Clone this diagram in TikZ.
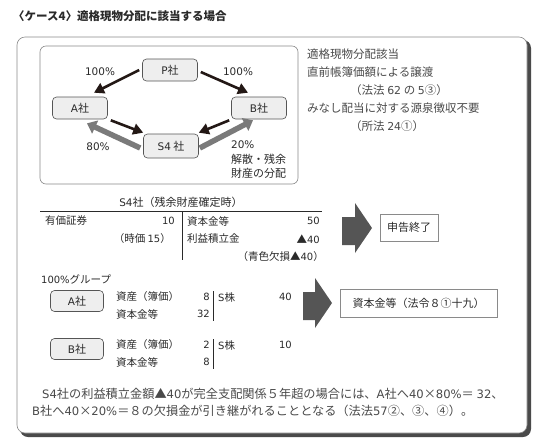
\documentclass[tikz,border=0pt]{standalone}
\usepackage{fontspec}
\setmainfont{Noto Sans CJK JP}
\newfontfamily\lat[Scale=0.95]{DejaVu Sans}
\newcommand{\nm}[1]{{\lat #1}}
\usetikzlibrary{arrows.meta}
\definecolor{txt}{HTML}{2A2A2A}
\definecolor{gtxt}{HTML}{4A4A4A}
\definecolor{frame}{HTML}{8A8A8A}
\definecolor{shadow}{HTML}{4A4A4A}
\definecolor{boxfill}{HTML}{EEEEEE}
\definecolor{boxline}{HTML}{555555}
\definecolor{blkarrow}{HTML}{231815}
\definecolor{grayarrow}{HTML}{7A7A7A}
\definecolor{bigarrow}{HTML}{555555}
\newcommand{\fs}[1]{\fontsize{#1}{#1}\selectfont}
\tikzset{
  comp/.style={draw=boxline, fill=boxfill, rounded corners=4pt, line width=0.6pt,
    minimum width=55pt, minimum height=22pt, inner sep=0pt, font=\fs{11}, text=txt},
  blk/.style={draw=blkarrow, line width=2.6pt, -{Triangle[length=10pt,width=11pt]}},
  gry/.style={draw=grayarrow, line width=5.5pt, -{Triangle[length=9pt,width=14pt]}},
  lbl/.style={inner sep=0pt, font=\fs{11}, text=txt},
  note/.style={inner sep=0pt, anchor=west, font=\fs{11.5}, text=gtxt},
  cell/.style={inner sep=0pt, font=\fs{10.5}, text=txt},
  resbox/.style={draw=frame, fill=white, line width=0.6pt, inner sep=0pt, font=\fs{11}, text=txt},
  body/.style={inner sep=0pt, anchor=west, font=\fs{12.2}, text=gtxt},
}
\begin{document}
\begin{tikzpicture}[x=1pt,y=-1pt]
\useasboundingbox (0,0) rectangle (550,448);
% title
\node[inner sep=0pt, anchor=west, font=\bfseries\fs{11.5}, text=txt] (title) at (13,16) {〈ケース4〉適格現物分配に該当する場合};
% outer frame with shadow
\fill[shadow, rounded corners=8pt] (20,40) rectangle (531,437);
\filldraw[fill=white, draw=frame, line width=0.6pt, rounded corners=8pt] (17,37) rectangle (527,433);
% inner box
\draw[frame, line width=0.6pt, rounded corners=6pt] (40,46) rectangle (298,184);
% companies
\node[comp] (P) at (170,70) {\nm{P}社};
\node[comp] (A) at (80,108) {\nm{A}社};
\node[comp] (B) at (259,108) {\nm{B}社};
\node[comp, minimum height=24pt] (S) at (171,146) {\nm{S4} 社};
% arrows
\draw[blk] ([xshift=-3pt]P.west) -- ([xshift=14pt,yshift=4pt]A.north);
\draw[blk] ([xshift=3pt,yshift=-2pt]P.east) -- ([xshift=-11pt,yshift=4pt]B.north);
\draw[blk] ([xshift=3pt,yshift=-1pt]A.south east) -- ([yshift=1pt]S.north west);
\draw[blk] ([xshift=-2pt,yshift=-1pt]B.south west) -- ([yshift=1pt]S.north east);
\draw[gry] ([xshift=-3pt,yshift=-2pt]S.west) -- ([xshift=7pt,yshift=-4pt]A.south);
\draw[gry] ([xshift=1pt,yshift=-2pt]S.east) -- ([xshift=-6pt,yshift=-1pt]B.south);
% labels
\node[lbl] (l1) at (100,72) {\nm{100\%}};
\node[lbl] (l2) at (238,72) {\nm{100\%}};
\node[lbl] (l3) at (98,147) {\nm{80\%}};
\node[lbl, anchor=west] (l4) at (231,145) {\nm{20\%}};
\node[lbl, anchor=west] (l5) at (231,159) {解散・残余};
\node[lbl, anchor=west] (l6) at (231,173) {財産の分配};
% notes
\node[note] (n1) at (307,54) {適格現物分配該当};
\node[note] (n2) at (307,72) {直前帳簿価額による譲渡};
\node[note] (n3) at (350,90) {（法法 \nm{62} の \nm{5}③）};
\node[note] (n4) at (307,108) {みなし配当に対する源泉徴収不要};
\node[note] (n5) at (350,126) {（所法 \nm{24}①）};
% S4 table
\node[cell, font=\fs{11}] (th) at (181,202) {\nm{S4}社（残余財産確定時）};
\draw[txt, line width=0.8pt] (40,211) -- (322,211);
\draw[txt, line width=0.8pt] (182,211) -- (182,260);
\node[cell, anchor=west] (t1) at (45,221) {有価証券};
\node[cell, anchor=east] (t2) at (175,221) {\nm{10}};
\node[cell, anchor=east] (t3) at (171,239) {（時価 \nm{15}）};
\node[cell, anchor=west] (t4) at (187,221) {資本金等};
\node[cell, anchor=east] (t5) at (320,221) {\nm{50}};
\node[cell, anchor=west] (t6) at (187,239) {利益積立金};
\node[cell, anchor=east] (t7) at (320,239) {▲\nm{40}};
\node[cell, anchor=east] (t8) at (324,257) {（青色欠損▲\nm{40}）};
% big arrow 1
\fill[bigarrow] (342,217) -- (355,217) -- (355,203) -- (372,228) -- (355,253) -- (355,245) -- (342,245) -- cycle;
\node[resbox, minimum width=58pt, minimum height=27pt] (r1) at (409,227.5) {申告終了};
% group
\node[cell, anchor=west] (g) at (41,279) {\nm{100\%}グループ};
\node[comp, minimum width=53pt, minimum height=21pt] (A2) at (77,301) {\nm{A}社};
\node[comp, minimum width=53pt, minimum height=21pt] (B2) at (77,349) {\nm{B}社};
\node[cell, anchor=west] (a1) at (116,297) {資産（簿価）};
\node[cell, anchor=east] (a2) at (210,297) {\nm{8}};
\node[cell, anchor=west] (a3) at (218,297) {\nm{S}株};
\node[cell, anchor=east] (a4) at (292,297) {\nm{40}};
\node[cell, anchor=west] (a5) at (116,314) {資本金等};
\node[cell, anchor=east] (a6) at (210,314) {\nm{32}};
\draw[txt, line width=0.7pt] (213,291) -- (213,321);
\node[cell, anchor=west] (b1) at (116,345) {資産（簿価）};
\node[cell, anchor=east] (b2) at (210,345) {\nm{2}};
\node[cell, anchor=west] (b3) at (218,345) {\nm{S}株};
\node[cell, anchor=east] (b4) at (292,345) {\nm{10}};
\node[cell, anchor=west] (b5) at (116,362) {資本金等};
\node[cell, anchor=east] (b6) at (210,362) {\nm{8}};
\draw[txt, line width=0.7pt] (213,339) -- (213,369);
% big arrow 2
\fill[bigarrow] (303,292) -- (315,292) -- (315,278) -- (332,303) -- (315,328) -- (315,320) -- (303,320) -- cycle;
\node[resbox, minimum width=157pt, minimum height=28pt] (r2) at (418.5,303) {資本金等（法令８①十九）};
% bottom text
\node[body] (x1) at (42,394) {\nm{S4}社の利益積立金額▲\nm{40}が完全支配関係５年超の場合には、\nm{A}社へ\nm{40}×\nm{80\%}＝ \nm{32}、};
\node[body] (x2) at (32,411) {\nm{B}社へ\nm{40}×\nm{20\%}＝８の欠損金が引き継がれることとなる（法法\nm{57}②、③、④）。};
\end{tikzpicture}
\end{document}
